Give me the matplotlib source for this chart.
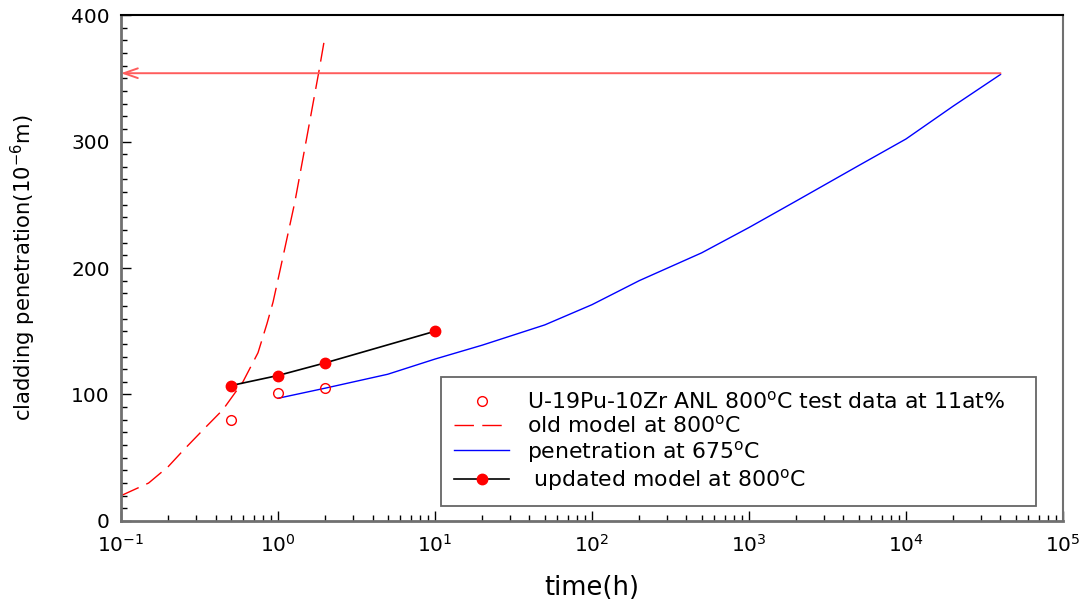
import matplotlib
matplotlib.use("Agg")
import matplotlib.pyplot as plt
from matplotlib.lines import Line2D
from matplotlib.ticker import FixedLocator, NullFormatter, MultipleLocator

plt.rcParams['font.family'] = ['DejaVu Sans']

# ---- data ----
test_t = [0.5, 1.0, 2.0]
test_pen = [80, 101, 105]

old_t = [0.1, 0.15, 0.2, 0.25, 0.333, 0.446, 0.598, 0.746, 0.851, 0.93, 1.03, 1.28, 1.53, 1.82, 1.96]
old_pen = [20, 30, 43, 56, 72, 88, 110, 133, 156, 173, 198, 252, 304, 355, 378]

pen675_t = [1, 2, 5, 10, 20, 50, 100, 200, 500, 1000, 2000, 5000, 1e4, 2e4, 4e4]
pen675 = [97, 105, 116, 128, 139, 155, 171, 190, 212, 232, 253, 281, 302, 328, 353]

upd_t = [0.5, 1.0, 2.0, 10.0]
upd_pen = [107, 115, 125, 150]

limit_pen = 354
limit_t = [4e4, 0.1]

xtick_vals = [0.1, 1, 10, 100, 1000, 1e4, 1e5]
xtick_labels = ['10$^{-1}$', '10$^{0}$', '10$^{1}$', '10$^{2}$', '10$^{3}$', '10$^{4}$', '10$^{5}$']
ytick_vals = [0, 100, 200, 300, 400]

labels = ['U-19Pu-10Zr ANL 800$^\\mathrm{o}$C test data at 11at%',
          'old model at 800$^\\mathrm{o}$C',
          'penetration at 675$^\\mathrm{o}$C',
          ' updated model at 800$^\\mathrm{o}$C']

# ---- figure ----
fig = plt.figure(figsize=(10.85, 6.06), dpi=100)
ax = fig.add_axes([0.1115, 0.1403, 0.8682, 0.8349])

ax.set_xscale('log')
ax.set_xlim(0.1, 1e5)
ax.set_ylim(0, 400)

ax.plot(old_t, old_pen, color='#ff0000', lw=1.0, dashes=(14, 6))
ax.plot(pen675_t, pen675, color='#0000ff', lw=1.0)
ax.plot(upd_t, upd_pen, color='black', lw=1.2, zorder=3)
ax.plot(upd_t, upd_pen, 'o', color='#ff0000', ms=7.5, zorder=4)
ax.plot(test_t, test_pen, 'o', mfc='none', mec='#ff0000', mew=1.0, ms=7, zorder=4)

ax.annotate('', xy=(limit_t[1], limit_pen), xytext=(limit_t[0], limit_pen),
            arrowprops=dict(arrowstyle='->,head_length=1.0,head_width=0.35',
                            color='#ff5c5c', lw=1.4, shrinkA=0, shrinkB=0,
                            mutation_scale=10))

# ticks
ax.xaxis.set_major_locator(FixedLocator(xtick_vals))
ax.set_xticklabels(xtick_labels)
minor = []
for dec in [0.1, 1, 10, 100, 1000, 1e4]:
    for m in range(2, 10):
        minor.append(dec * m)
ax.xaxis.set_minor_locator(FixedLocator(minor))
ax.xaxis.set_minor_formatter(NullFormatter())
ax.yaxis.set_major_locator(FixedLocator(ytick_vals))
ax.yaxis.set_minor_locator(MultipleLocator(10))

ax.tick_params(axis='both', which='major', direction='in', length=7, width=1.0,
               labelsize=14.5, pad=8)
ax.tick_params(axis='both', which='minor', direction='in', length=4.5, width=1.0)
ax.tick_params(axis='x', which='major', pad=9)

for s in ['left', 'bottom']:
    ax.spines[s].set_color('#707070')
    ax.spines[s].set_linewidth(2.0)
ax.spines['top'].set_color('black')
ax.spines['top'].set_linewidth(1.5)
ax.spines['right'].set_color('#707070')
ax.spines['right'].set_linewidth(1.5)

ax.set_xlabel('time(h)', fontsize=18.5, labelpad=14)
ax.set_ylabel('cladding penetration(10$^{-6}$m)', fontsize=15.2, labelpad=24)

handles = [
    Line2D([], [], ls='none', marker='o', mfc='none', mec='#ff0000', mew=1.0, ms=7),
    Line2D([], [], color='#ff0000', lw=1.0, dashes=(14, 6)),
    Line2D([], [], color='#0000ff', lw=1.0),
    Line2D([], [], color='black', lw=1.2, marker='o', mfc='#ff0000', mec='#ff0000', ms=7.5),
]
leg = ax.legend(handles, labels, loc='lower left', bbox_to_anchor=(0.340, 0.0296, 0.631, 0.257),
                mode='expand', borderaxespad=0, fontsize=15.8, frameon=True, fancybox=False,
                handlelength=2.5, handletextpad=0.8, labelspacing=0.1, borderpad=0.6)
leg.get_frame().set_edgecolor('#404040')
leg.get_frame().set_linewidth(1.3)

fig.savefig('out.png', dpi=100)
